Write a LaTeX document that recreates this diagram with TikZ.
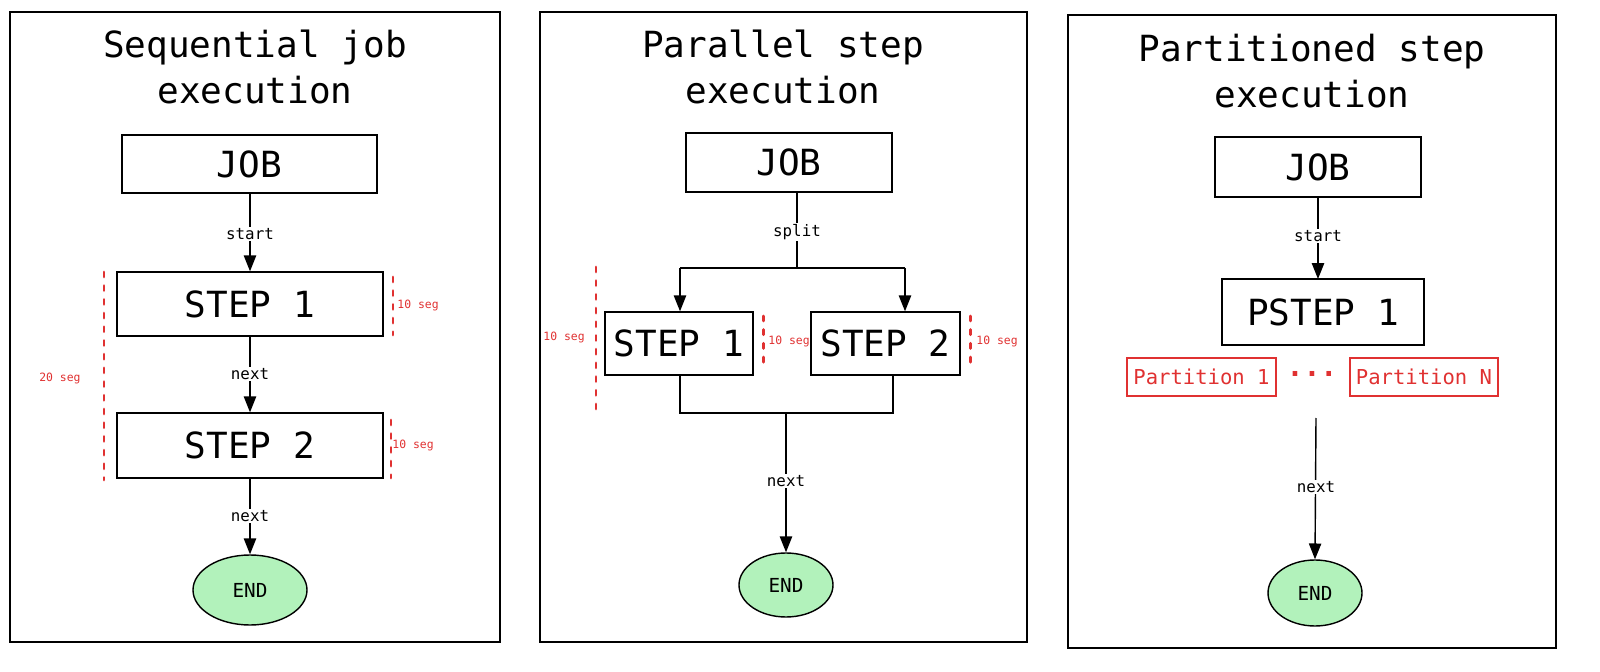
\documentclass[tikz,border=0pt]{standalone}
\usepackage{fontspec}
\setmainfont{DejaVu Sans Mono}
\usetikzlibrary{arrows.meta,shapes.geometric}
\definecolor{rd}{HTML}{E03131}
\definecolor{gr}{HTML}{B2F2BB}
\begin{document}
\begin{tikzpicture}[x=0.02cm,y=-0.02cm,
  panel/.style={draw,line width=0.8pt},
  box/.style={draw,line width=0.8pt,font=\fontsize{20.5}{22}\selectfont,inner sep=0pt},
  ttl/.style={font=\fontsize{20.5}{26}\selectfont,align=center},
  lbl/.style={font=\fontsize{9}{10}\selectfont,fill=white,inner sep=1pt},
  red/.style={text=rd,font=\fontsize{6.5}{7}\selectfont},
  rdash/.style={draw=rd,line width=1.7pt,dash pattern=on 2.8pt off 5pt,line cap=round},
  pbox/.style={draw=rd,line width=0.8pt,text=rd,font=\fontsize{11.7}{13}\selectfont,inner sep=0pt,minimum height=38*0.02cm},
  endn/.style={ellipse,draw,line width=0.8pt,fill=gr,font=\fontsize{11}{12}\selectfont,inner sep=0pt},
  ar/.style={-{Triangle[length=9pt,width=7pt]},line width=0.8pt},
  ln/.style={line width=0.8pt}]
% panels
\node[panel,minimum width=490*0.02cm,minimum height=630*0.02cm] (p1) at (255,327) {};
\node[panel,minimum width=487*0.02cm,minimum height=630*0.02cm] (p2) at (783.5,327) {};
\node[panel,minimum width=488*0.02cm,minimum height=633*0.02cm] (p3) at (1312,331.5) {};
% ---- panel 1
\node[ttl] (t1) at (255,67) {Sequential job\\execution};
\node[box,minimum width=255*0.02cm,minimum height=58*0.02cm] (j1) at (249.5,164) {JOB};
\node[box,minimum width=266*0.02cm,minimum height=64*0.02cm] (s11) at (250,304) {STEP 1};
\node[box,minimum width=266*0.02cm,minimum height=65*0.02cm] (s12) at (250,445.5) {STEP 2};
\node[endn,minimum width=114*0.02cm,minimum height=70*0.02cm] (e1) at (250,590) {END};
\draw[ar] (j1.south -| s11.north) -- (s11.north);
\draw[ar] (s11) -- (s12);
\draw[ar] (s12) -- (e1);
\node[lbl] (l11) at (250,234) {start};
\node[lbl] (l12) at (250,374) {next};
\node[lbl] (l13) at (250,516) {next};
\coordinate (d1a) at (104,272); \coordinate (d1b) at (104,480);
\draw[rdash] (d1a) -- (d1b);
\node[red] (r1) at (60,378) {20 seg};
\coordinate (d2a) at (393,277); \coordinate (d2b) at (393,335);
\draw[rdash] (d2a) -- (d2b);
\node[red] (r2) at (418,305) {10 seg};
\coordinate (d3a) at (391,420); \coordinate (d3b) at (391,478);
\draw[rdash] (d3a) -- (d3b);
\node[red] (r3) at (413,445) {10 seg};
% ---- panel 2
\node[ttl] (t2) at (783,67) {Parallel step\\execution};
\node[box,minimum width=206*0.02cm,minimum height=59*0.02cm] (j2) at (789,162.5) {JOB};
\node[box,minimum width=148*0.02cm,minimum height=63*0.02cm] (s21) at (679,343.5) {STEP 1};
\node[box,minimum width=149*0.02cm,minimum height=63*0.02cm] (s22) at (885.5,343.5) {STEP 2};
\node[endn,minimum width=94*0.02cm,minimum height=64*0.02cm] (e2) at (786,585) {END};
\coordinate (sp) at (797,268);
\coordinate (spl) at (680,268); \coordinate (spr) at (905,268);
\draw[ln] (j2.south -| sp) -- (sp);
\draw[ln] (spl) -- (spr);
\draw[ar] (spl) -- (spl |- s21.north);
\draw[ar] (spr) -- (spr |- s22.north);
\coordinate (jl) at (680,413); \coordinate (jr) at (893,413); \coordinate (jm) at (786,413);
\draw[ln] (jl |- s21.south) -- (jl) -- (jr) -- (jr |- s22.south);
\draw[ar] (jm) -- (e2.north);
\node[lbl] (l21) at (797,232) {split};
\node[lbl] (l22) at (786,481) {next};
\coordinate (d4a) at (596,267); \coordinate (d4b) at (596,410);
\draw[rdash] (d4a) -- (d4b);
\node[red] (r4) at (564,337) {10 seg};
\coordinate (d5a) at (763,316); \coordinate (d5b) at (763,370);
\draw[rdash] (d5a) -- (d5b);
\node[red] (r5) at (789,341) {10 seg};
\coordinate (d6a) at (970,316); \coordinate (d6b) at (970,370);
\draw[rdash] (d6a) -- (d6b);
\node[red] (r6) at (997,341) {10 seg};
% ---- panel 3
\node[ttl] (t3) at (1312,71) {Partitioned step\\execution};
\node[box,minimum width=206*0.02cm,minimum height=60*0.02cm] (j3) at (1318,167) {JOB};
\node[box,minimum width=202*0.02cm,minimum height=66*0.02cm] (s31) at (1323,312) {PSTEP 1};
\node[pbox,minimum width=149*0.02cm] (pa1) at (1201.5,377) {Partition 1};
\node[pbox,minimum width=148*0.02cm] (pan) at (1424,377) {Partition N};
\node[text=rd,font=\fontsize{16}{16}\selectfont\bfseries] (dots) at (1312,374) {...};
\node[endn,minimum width=94*0.02cm,minimum height=66*0.02cm] (e3) at (1315,593) {END};
\coordinate (js) at (1318,197); \coordinate (pn) at (1318,279);
\draw[ar] (js) -- (pn);
\coordinate (pt) at (1316,418);
\draw[ar] (pt) -- (e3.north);
\node[lbl] (l31) at (1318,236) {start};
\node[lbl] (l32) at (1316,487) {next};
\pgfresetboundingbox
\useasboundingbox (0,0) rectangle (1600,672);
\end{tikzpicture}
\end{document}
